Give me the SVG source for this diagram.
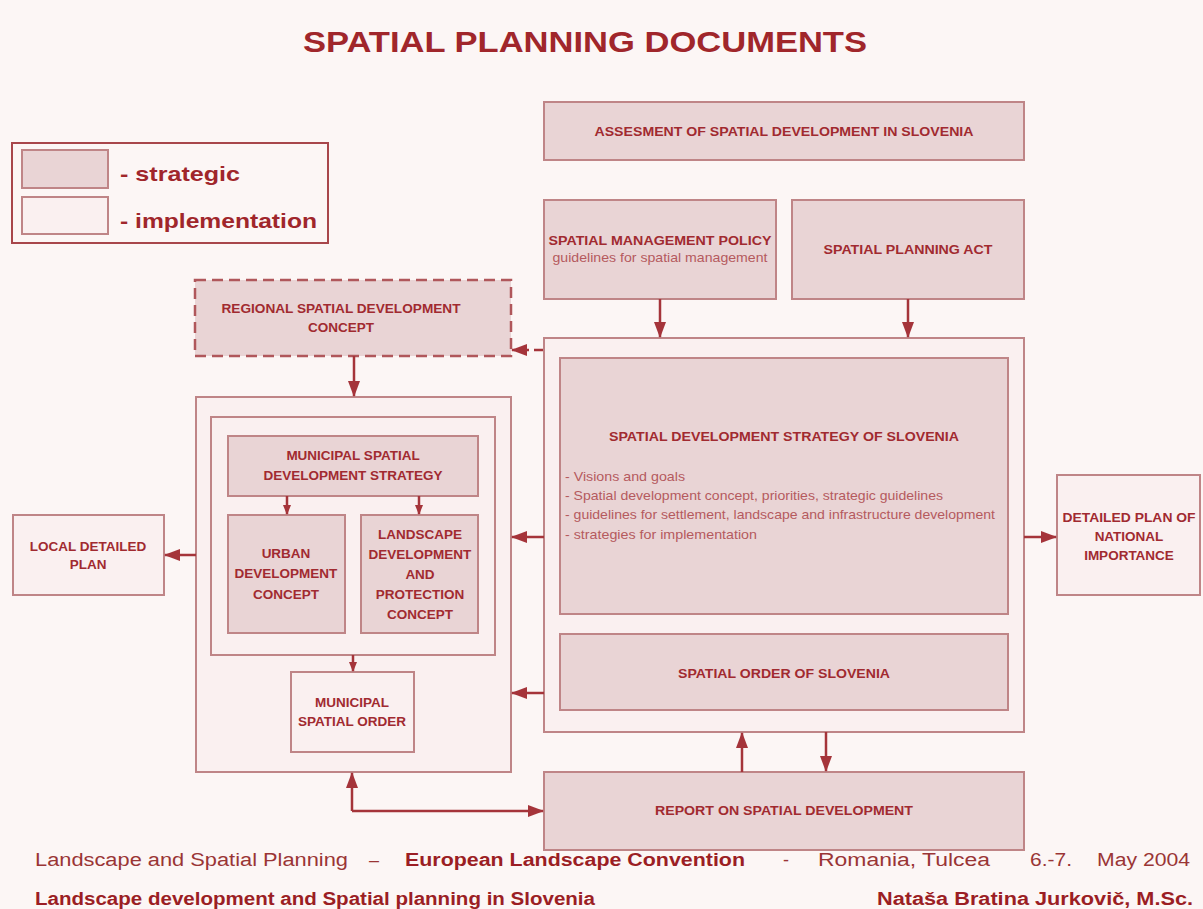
<svg xmlns="http://www.w3.org/2000/svg" width="1203" height="909" viewBox="0 0 1203 909">
<style>
.bg{fill:#fcf6f5}
.st{fill:#e9d4d5;stroke:#bf8587;stroke-width:2}
.im{fill:#faf0f0;stroke:#bf8587;stroke-width:2}
.lbl{font-family:"Liberation Sans",Arial,sans-serif;font-weight:bold;font-size:13.5px;fill:#a12a30;text-anchor:middle}
.sub{font-family:"Liberation Sans",Arial,sans-serif;font-size:13px;fill:#b55a5e}
.con{stroke:#a5343a;stroke-width:2.5;fill:none}
.foot{font-family:"Liberation Sans",Arial,sans-serif;font-size:18px;fill:#9a3535}
.footb{font-family:"Liberation Sans",Arial,sans-serif;font-size:18px;font-weight:bold;fill:#9b1e24}
</style>
<defs>
<marker id="ah" markerUnits="userSpaceOnUse" markerWidth="16" markerHeight="12" refX="15" refY="6" orient="auto">
<path d="M0,0 L16,6 L0,12 z" fill="#a5343a"/>
</marker>
<marker id="ahs" markerUnits="userSpaceOnUse" markerWidth="10" markerHeight="8" refX="9" refY="4" orient="auto">
<path d="M0,0 L10,4 L0,8 z" fill="#a5343a"/>
</marker>
</defs>
<rect class="bg" x="0" y="0" width="1203" height="909"/>
<text x="585" y="52" font-family="Liberation Sans,Arial,sans-serif" font-weight="bold" font-size="30" fill="#a0262b" text-anchor="middle" textLength="564" lengthAdjust="spacingAndGlyphs">SPATIAL PLANNING DOCUMENTS</text>

<g id="legend">
<rect x="12" y="143" width="316" height="100" fill="#fcf6f5" stroke="#a8464b" stroke-width="2"/>
<rect class="st" x="22" y="150" width="86" height="38" stroke="#a8464b"/>
<rect class="im" x="22" y="197" width="86" height="37" stroke="#a8464b"/>
<text x="120" y="181" font-family="Liberation Sans,Arial,sans-serif" font-weight="bold" font-size="21" fill="#a0262b" textLength="120" lengthAdjust="spacingAndGlyphs">- strategic</text>
<text x="120" y="228" font-family="Liberation Sans,Arial,sans-serif" font-weight="bold" font-size="21" fill="#a0262b" textLength="197" lengthAdjust="spacingAndGlyphs">- implementation</text>
</g>

<g id="assessment">
<rect class="st" x="544" y="102" width="480" height="58"/>
<text class="lbl" x="784" y="136" textLength="379" lengthAdjust="spacingAndGlyphs">ASSESMENT OF SPATIAL DEVELOPMENT IN SLOVENIA</text>
</g>

<g id="policy">
<rect class="st" x="544" y="200" width="232" height="99"/>
<text class="lbl" x="660" y="245" textLength="223" lengthAdjust="spacingAndGlyphs">SPATIAL MANAGEMENT POLICY</text>
<text class="sub" x="660" y="262" text-anchor="middle" textLength="215" lengthAdjust="spacingAndGlyphs">guidelines for spatial management</text>
</g>

<g id="act">
<rect class="st" x="792" y="200" width="232" height="99"/>
<text class="lbl" x="908" y="254" textLength="169" lengthAdjust="spacingAndGlyphs">SPATIAL PLANNING ACT</text>
</g>

<g id="regional">
<rect x="195" y="280" width="316" height="76" fill="#e9d4d5" stroke="#b0575b" stroke-width="2.5" stroke-dasharray="11,6"/>
<text class="lbl" x="341" y="313" textLength="239" lengthAdjust="spacingAndGlyphs">REGIONAL SPATIAL DEVELOPMENT</text>
<text class="lbl" x="341" y="332">CONCEPT</text>
</g>

<g id="national-frame">
<rect class="im" x="544" y="338" width="480" height="394"/>
</g>

<g id="strategy">
<rect class="st" x="560" y="358" width="448" height="256"/>
<text class="lbl" x="784" y="441" textLength="350" lengthAdjust="spacingAndGlyphs">SPATIAL DEVELOPMENT STRATEGY OF SLOVENIA</text>
<text class="sub" x="565" y="481" textLength="120" lengthAdjust="spacingAndGlyphs">- Visions and goals</text>
<text class="sub" x="565" y="500" textLength="378" lengthAdjust="spacingAndGlyphs">- Spatial development concept, priorities, strategic guidelines</text>
<text class="sub" x="565" y="519" textLength="430" lengthAdjust="spacingAndGlyphs">- guidelines for settlement, landscape and infrastructure development</text>
<text class="sub" x="565" y="539" textLength="192" lengthAdjust="spacingAndGlyphs">- strategies for implementation</text>
</g>

<g id="spatial-order">
<rect class="st" x="560" y="634" width="448" height="76"/>
<text class="lbl" x="784" y="678" textLength="212" lengthAdjust="spacingAndGlyphs">SPATIAL ORDER OF SLOVENIA</text>
</g>

<g id="report">
<rect class="st" x="544" y="772" width="480" height="78"/>
<text class="lbl" x="784" y="815" textLength="258" lengthAdjust="spacingAndGlyphs">REPORT ON SPATIAL DEVELOPMENT</text>
</g>

<g id="municipal-frame">
<rect class="im" x="196" y="397" width="315" height="375"/>
<rect class="im" x="211" y="417" width="284" height="238"/>
</g>

<g id="municipal-strategy">
<rect class="st" x="228" y="436" width="250" height="60"/>
<text class="lbl" x="353" y="460">MUNICIPAL SPATIAL</text>
<text class="lbl" x="353" y="480">DEVELOPMENT STRATEGY</text>
</g>

<g id="urban">
<rect class="st" x="228" y="515" width="117" height="118"/>
<text class="lbl" x="286" y="558">URBAN</text>
<text class="lbl" x="286" y="578">DEVELOPMENT</text>
<text class="lbl" x="286" y="599">CONCEPT</text>
</g>

<g id="landscape">
<rect class="st" x="361" y="515" width="117" height="118"/>
<text class="lbl" x="420" y="539">LANDSCAPE</text>
<text class="lbl" x="420" y="559">DEVELOPMENT</text>
<text class="lbl" x="420" y="579">AND</text>
<text class="lbl" x="420" y="599">PROTECTION</text>
<text class="lbl" x="420" y="619">CONCEPT</text>
</g>

<g id="municipal-order">
<rect class="im" x="291" y="672" width="123" height="80"/>
<text class="lbl" x="352" y="707">MUNICIPAL</text>
<text class="lbl" x="352" y="726">SPATIAL ORDER</text>
</g>

<g id="local">
<rect class="im" x="13" y="515" width="151" height="80"/>
<text class="lbl" x="88" y="551">LOCAL DETAILED</text>
<text class="lbl" x="88" y="569">PLAN</text>
</g>

<g id="national">
<rect class="im" x="1057" y="475" width="143" height="120"/>
<text class="lbl" x="1129" y="522" textLength="133" lengthAdjust="spacingAndGlyphs">DETAILED PLAN OF</text>
<text class="lbl" x="1129" y="541">NATIONAL</text>
<text class="lbl" x="1129" y="560">IMPORTANCE</text>
</g>

<g id="connectors">
<line class="con" x1="660" y1="299" x2="660" y2="337" marker-end="url(#ah)"/>
<line class="con" x1="908" y1="299" x2="908" y2="337" marker-end="url(#ah)"/>
<line class="con" x1="543" y1="350" x2="512" y2="350" stroke-dasharray="9,5" marker-end="url(#ah)"/>
<line class="con" x1="354" y1="356" x2="354" y2="396" marker-end="url(#ah)"/>
<line class="con" x1="287" y1="496" x2="287" y2="514" stroke-width="2" marker-end="url(#ahs)"/>
<line class="con" x1="419" y1="496" x2="419" y2="514" stroke-width="2" marker-end="url(#ahs)"/>
<line class="con" x1="353" y1="655" x2="353" y2="671" stroke-width="2" marker-end="url(#ahs)"/>
<line class="con" x1="544" y1="537" x2="512" y2="537" marker-end="url(#ah)"/>
<line class="con" x1="544" y1="693" x2="512" y2="693" marker-end="url(#ah)"/>
<line class="con" x1="196" y1="555" x2="165" y2="555" marker-end="url(#ah)"/>
<line class="con" x1="1024" y1="537" x2="1056" y2="537" marker-end="url(#ah)"/>
<line class="con" x1="742" y1="772" x2="742" y2="733" marker-end="url(#ah)"/>
<line class="con" x1="826" y1="732" x2="826" y2="771" marker-end="url(#ah)"/>
<path class="con" d="M352,811 L352,773" marker-end="url(#ah)"/>
<path class="con" d="M352,811 L543,811" marker-end="url(#ah)"/>
</g>

<g id="footer">
<text class="foot" x="35" y="866" textLength="313" lengthAdjust="spacingAndGlyphs">Landscape and Spatial Planning</text>
<text class="foot" x="369" y="866">–</text>
<text class="footb" x="405" y="866" textLength="340" lengthAdjust="spacingAndGlyphs">European Landscape Convention</text>
<text class="foot" x="783" y="866">-</text>
<text class="foot" x="818" y="866" textLength="172" lengthAdjust="spacingAndGlyphs">Romania, Tulcea</text>
<text class="foot" x="1030" y="866" textLength="42" lengthAdjust="spacingAndGlyphs">6.-7.</text>
<text class="foot" x="1097" y="866" textLength="93" lengthAdjust="spacingAndGlyphs">May 2004</text>
<text class="footb" x="35" y="905" textLength="560" lengthAdjust="spacingAndGlyphs">Landscape development and Spatial planning in Slovenia</text>
<text class="footb" x="877" y="905" textLength="316" lengthAdjust="spacingAndGlyphs">Nataša Bratina Jurkovič, M.Sc.</text>
</g>
</svg>
